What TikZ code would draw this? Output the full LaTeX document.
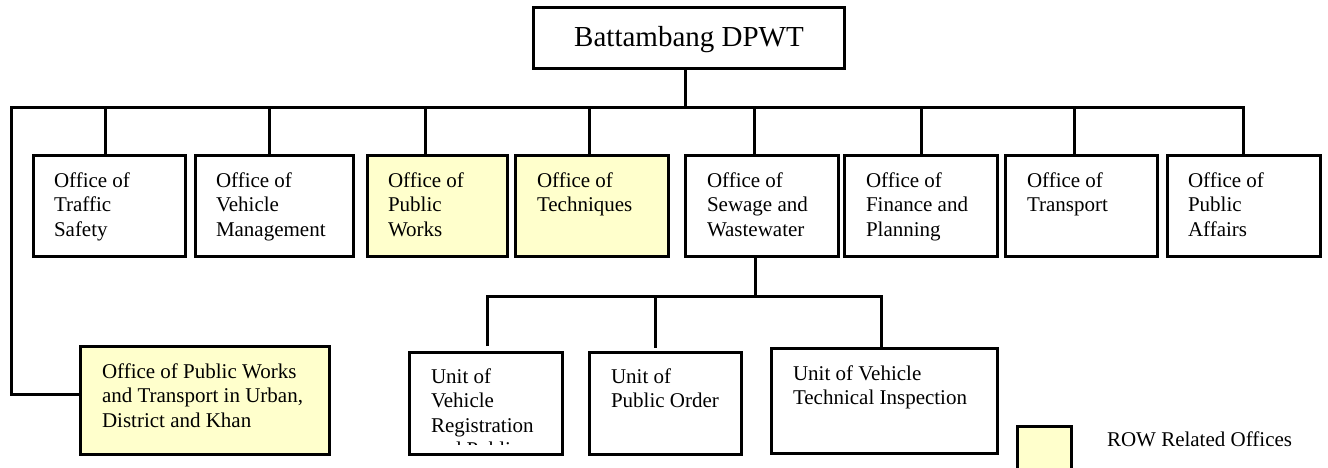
\documentclass[tikz,border=0pt]{standalone}
\usepackage{fontspec}
\setmainfont{Liberation Serif}
\definecolor{rowyellow}{HTML}{FFFFCC}
\begin{document}
\begin{tikzpicture}[x=1pt,y=-1pt,
  obox/.style={draw, line width=3pt, inner sep=0pt, outer sep=0pt, anchor=north west, fill=white},
  rowbox/.style={obox, fill=rowyellow},
  conn/.style={draw, line width=3pt, line join=miter},
  txt/.style={inner sep=0pt, outer sep=0pt, anchor=north west, align=left, font=\fontsize{21}{24.5}\selectfont},
  toptxt/.style={inner sep=0pt, font=\fontsize{29}{34}\selectfont}]
\useasboundingbox (0,0) rectangle (1328,468);
% top
\node[obox, minimum width=311pt, minimum height=61pt] (top) at (533,8) {};
\node[toptxt] (toptext) at (689,40) {Battambang DPWT};
% first row
\node[obox, minimum width=152pt, minimum height=100pt] (b1) at (33,156) {};
\node[obox, minimum width=158pt, minimum height=100pt] (b2) at (195,156) {};
\node[rowbox, minimum width=140pt, minimum height=100pt] (b3) at (367,156) {};
\node[rowbox, minimum width=153pt, minimum height=100pt] (b4) at (515,156) {};
\node[obox, minimum width=153pt, minimum height=100pt] (b5) at (685,156) {};
\node[obox, minimum width=153pt, minimum height=100pt] (b6) at (844,156) {};
\node[obox, minimum width=152pt, minimum height=100pt] (b7) at (1005,156) {};
\node[obox, minimum width=153pt, minimum height=100pt] (b8) at (1167,156) {};
\node[txt] (t1) at (54,170) {\strut Office of\\Traffic\\Safety};
\node[txt] (t2) at (216,170) {\strut Office of\\Vehicle\\Management};
\node[txt] (t3) at (388,170) {\strut Office of\\Public\\Works};
\node[txt] (t4) at (537,170) {\strut Office of\\Techniques};
\node[txt] (t5) at (707,170) {\strut Office of\\Sewage and\\Wastewater};
\node[txt] (t6) at (866,170) {\strut Office of\\Finance and\\Planning};
\node[txt] (t7) at (1027,170) {\strut Office of\\Transport};
\node[txt] (t8) at (1188,170) {\strut Office of\\Public\\Affairs};
% bottom row
\node[rowbox, minimum width=249pt, minimum height=108pt] (bl) at (80,346) {};
\node[txt] (tbl) at (102,361) {\strut Office of Public Works\\and Transport in Urban,\\District and Khan};
\node[obox, minimum width=153pt, minimum height=102pt] (u1) at (409,352) {};
\node[obox, minimum width=152pt, minimum height=102pt] (u2) at (589,352) {};
\node[obox, minimum width=226pt, minimum height=105pt] (u3) at (771,348) {};
\begin{scope}
\clip (409,352) rectangle (562,444.5);
\node[txt] (tu1) at (431,366) {\strut Unit of\\Vehicle\\Registration\\and Public};
\end{scope}
\node[txt] (tu2) at (611,366) {\strut Unit of\\Public Order};
\node[txt] (tu3) at (793,363) {\strut Unit of Vehicle\\Technical Inspection};
% legend
\node[rowbox, minimum width=54pt, minimum height=44pt] (leg) at (1017,426) {};
\node[txt] (legtext) at (1107,429) {\strut ROW Related Offices};
% connectors
\coordinate (stem) at (685,108);
\coordinate (busL) at (11,108);
\coordinate (busR) at (1243,108);
\coordinate (blc) at (11,394);
\coordinate (s1) at (105,108);
\coordinate (s2) at (269,108);
\coordinate (s3) at (425,108);
\coordinate (s4) at (589,108);
\coordinate (s5) at (754,108);
\coordinate (s6) at (921,108);
\coordinate (s7) at (1074,108);
\draw[conn] (top.south -| stem) -- (stem);
\draw[conn] (blc -| bl.west) -- (blc) -- (busL) -- (busR) -- (busR |- b8.north);
\foreach \i in {1,...,7} {\draw[conn] (s\i) -- (s\i |- b\i.north);}
\coordinate (j5) at (755,296);
\coordinate (sa) at (487,296);
\coordinate (sb) at (655,296);
\coordinate (sc) at (881,296);
\coordinate (e1) at (487,346);
\coordinate (e2) at (655,348);
\draw[conn] (b5.south -| j5) -- (j5);
\draw[conn] (e1) -- (sa) -- (sc) -- (sc |- u3.north);
\draw[conn] (sb) -- (e2);
\end{tikzpicture}
\end{document}
